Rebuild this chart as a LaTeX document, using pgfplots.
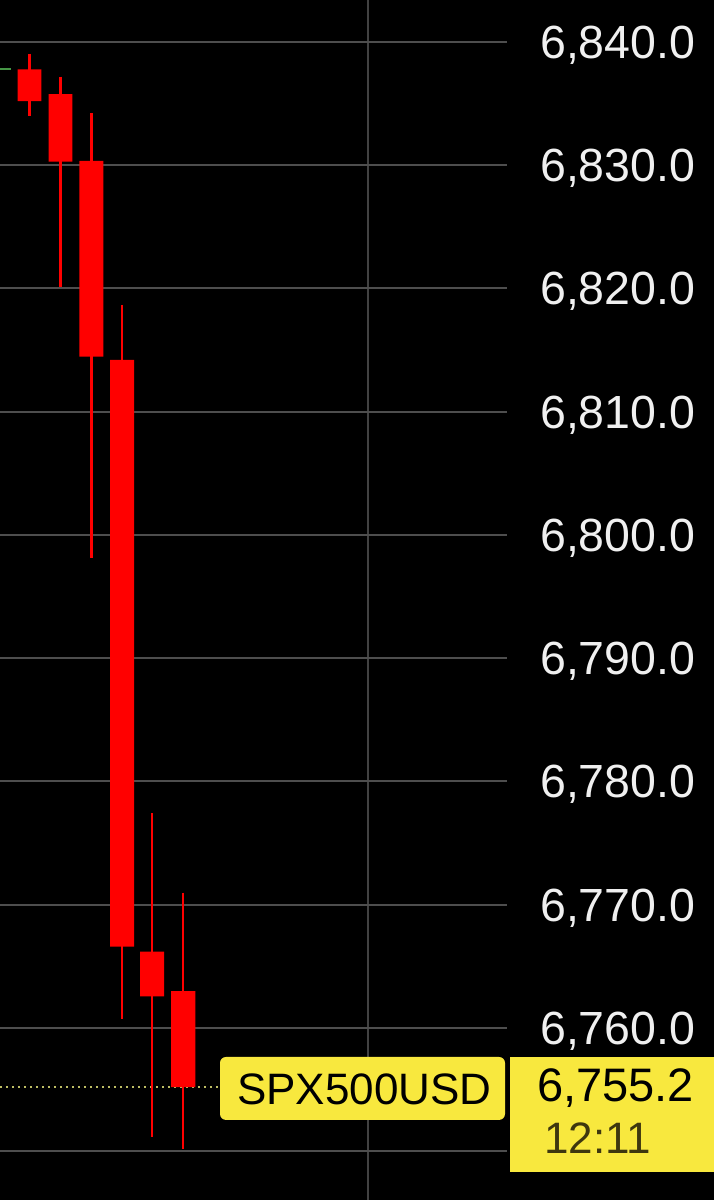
\documentclass[border=0pt]{standalone}
\usepackage{pgfplots}
\pgfplotsset{compat=1.18}
\usepackage{fontspec}
\setmainfont{Liberation Sans}
\definecolor{grd}{RGB}{78,78,78}
\definecolor{vgrd}{RGB}{66,66,66}
\definecolor{cred}{RGB}{255,0,0}
\definecolor{ylw}{RGB}{248,232,62}
\definecolor{dotc}{RGB}{190,190,100}
\definecolor{grn}{RGB}{70,150,70}
\definecolor{tcol}{RGB}{240,240,240}
\definecolor{timec}{RGB}{62,55,15}
\begin{document}
\begin{tikzpicture}
\path[use as bounding box] (0,0) rectangle (714pt,1200pt);
\fill[black] (0,0) rectangle (714pt,1200pt);
\begin{axis}[
  at={(0,0)}, anchor=south west,
  scale only axis, width=507pt, height=1200pt,
  xmin=0, xmax=507, ymin=6746.045, ymax=6843.408,
  clip=false,
  axis line style={draw=none},
  major tick length=0pt,
  ytick={6750,6760,6770,6780,6790,6800,6810,6820,6830,6840},
  yticklabels={{},{6,760.0},{6,770.0},{6,780.0},{6,790.0},{6,800.0},{6,810.0},{6,820.0},{6,830.0},{6,840.0}},
  yticklabel pos=right,
  yticklabel style={anchor=base west, inner sep=0pt, xshift=33pt, yshift=-16.5pt,
     font=\fontsize{46.5}{50}\selectfont, text=tcol},
  xtick={368}, xticklabels={},
  ymajorgrids, xmajorgrids,
  y grid style={draw=grd, line width=2pt},
  x grid style={draw=vgrd, line width=2pt},
]
% green fragment
\addplot[grn, line width=2pt] coordinates {(0,6837.78) (10.7,6837.78)};
% dotted last price line
\addplot[dotc, line width=2pt, dash pattern=on 2pt off 4pt] coordinates {(0,6755.2) (220,6755.2)};
% wicks
\addplot[cred, line width=2.7pt] coordinates {(29.5,6839.03) (29.5,6834.0)};
\addplot[cred, line width=2.7pt] coordinates {(60.5,6837.18) (60.5,6820.1)};
\addplot[cred, line width=2.7pt] coordinates {(91.3,6834.22) (91.3,6798.13)};
\addplot[cred, line width=2.7pt] coordinates {(122,6818.66) (122,6760.7)};
\addplot[cred, line width=2.7pt] coordinates {(152,6777.44) (152,6751.18)};
\addplot[cred, line width=2.7pt] coordinates {(183,6770.98) (183,6750.16)};
% bodies
\addplot[fill=cred, draw=none] coordinates {(17.7,6837.78) (41.3,6837.78) (41.3,6835.2) (17.7,6835.2) (17.7,6837.78)};
\addplot[fill=cred, draw=none] coordinates {(48.7,6835.76) (72.3,6835.76) (72.3,6830.29) (48.7,6830.29) (48.7,6835.76)};
\addplot[fill=cred, draw=none] coordinates {(79.3,6830.35) (103.3,6830.35) (103.3,6814.47) (79.3,6814.47) (79.3,6830.35)};
\addplot[fill=cred, draw=none] coordinates {(110,6814.2) (134,6814.2) (134,6766.6) (110,6766.6) (110,6814.2)};
\addplot[fill=cred, draw=none] coordinates {(140,6766.19) (164,6766.19) (164,6762.57) (140,6762.57) (140,6766.19)};
\addplot[fill=cred, draw=none] coordinates {(171,6763.0) (195.3,6763.0) (195.3,6755.2) (171,6755.2) (171,6763.0)};
% labels
\fill[ylw, rounded corners=6pt] (axis cs:220,6757.65) rectangle (axis cs:505,6752.54);
\fill[ylw] (axis cs:510,6757.65) rectangle (axis cs:714,6748.32);
\node[anchor=west, inner sep=0pt, font=\fontsize{44}{48}\selectfont, text=black] at (axis cs:237,6755.05) {SPX500USD};
\node[anchor=base west, inner sep=0pt, font=\fontsize{47}{50}\selectfont, text=black, yshift=-16.8pt] at (axis cs:537,6755.38) {6,755.2};
\node[anchor=base west, inner sep=0pt, font=\fontsize{44}{48}\selectfont, text=timec, yshift=-15.8pt] at (axis cs:544,6751.07) {12:11};
\end{axis}
\end{tikzpicture}
\end{document}
